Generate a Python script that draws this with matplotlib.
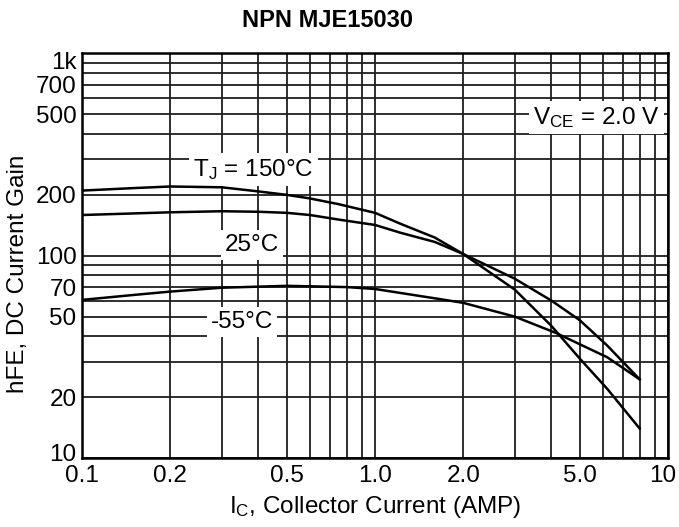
import numpy as np
import matplotlib
matplotlib.use("Agg")
import matplotlib.pyplot as plt
import matplotlib.transforms as mtransforms
from matplotlib.ticker import FixedLocator, FixedFormatter, LogLocator, NullFormatter

plt.rcParams['font.family'] = ['Liberation Sans', 'DejaVu Sans']
plt.rcParams['mathtext.default'] = 'regular'

# collector current (A) and DC current gain for each junction temperature
ic_150 = [0.1, 0.15, 0.2, 0.3, 0.4, 0.5, 0.6, 0.75, 1.0, 1.22, 1.6, 2.0, 3.0, 4.0, 5.0, 6.2, 8.0]
hfe_150 = [210, 216, 220, 218, 208, 200, 192, 180, 163, 144, 123, 102, 68, 45, 31, 22, 14]

ic_25 = [0.1, 0.2, 0.3, 0.4, 0.5, 0.6, 0.75, 1.0, 1.22, 1.6, 2.0, 3.0, 4.0, 5.0, 6.2, 8.0]
hfe_25 = [159, 164, 166, 165, 163, 159, 151, 142, 130, 117, 102, 77, 60, 48, 36, 24.5]

ic_m55 = [0.1, 0.15, 0.2, 0.3, 0.5, 0.8, 1.0, 1.67, 2.0, 3.0, 4.15, 5.0, 6.2, 8.0]
hfe_m55 = [60.5, 64, 66.5, 69.5, 71, 70, 68.5, 61, 58.5, 50, 41.5, 36.5, 31.5, 24.5]

xticks = [0.1, 0.2, 0.5, 1.0, 2.0, 5.0, 10]
xlabels = ["0.1", "0.2", "0.5", "1.0", "2.0", "5.0", "10"]
yticks = [10, 20, 50, 70, 100, 200, 500, 700, 1000]
ylabels = ["10", "20", "50", "70", "100", "200", "500", "700", "1k"]

fs = 17.5

fig = plt.figure(figsize=(6.79, 5.27), dpi=100)
ax = fig.add_axes([0.1208, 0.1309, 0.863, 0.7676])
ax.set_xscale("log")
ax.set_yscale("log")
ax.set_xlim(0.1, 10)
ax.set_ylim(10, 1000)

ax.xaxis.set_major_locator(FixedLocator(xticks))
ax.xaxis.set_major_formatter(FixedFormatter(xlabels))
ax.yaxis.set_major_locator(FixedLocator(yticks))
ax.yaxis.set_major_formatter(FixedFormatter(ylabels))
ax.xaxis.set_minor_locator(LogLocator(base=10, subs=np.arange(2, 10)))
ax.yaxis.set_minor_locator(LogLocator(base=10, subs=np.arange(2, 10)))
ax.xaxis.set_minor_formatter(NullFormatter())
ax.yaxis.set_minor_formatter(NullFormatter())

ax.grid(True, which="both", color="0.12", lw=1.3, zorder=1)
ax.set_axisbelow(True)
ax.tick_params(which="both", length=0, labelsize=fs)
ax.tick_params(axis="x", pad=5)
ax.tick_params(axis="y", pad=4)
for s in ax.spines.values():
    s.set_linewidth(1.8)

# nudge the corner labels inward so they don't collide / clip
def nudge(label, dx, dy):
    label.set_transform(label.get_transform() +
                        mtransforms.ScaledTranslation(dx / 72, dy / 72, fig.dpi_scale_trans))

xl = ax.get_xticklabels()
yl = ax.get_yticklabels()
nudge(xl[-1], -3.5, 0)
nudge(yl[0], 0, 4)
nudge(yl[-1], 0, -5)

ax.plot(ic_150, hfe_150, color="black", lw=1.8, zorder=4)
ax.plot(ic_25, hfe_25, color="black", lw=1.8, zorder=4)
ax.plot(ic_m55, hfe_m55, color="black", lw=1.8, zorder=4)

box = dict(facecolor="white", edgecolor="none", pad=3)
ax.text(0.384, 267, "T$_{J}$ = 150°C", fontsize=fs, ha="center", va="center", bbox=box, zorder=3)
ax.text(0.381, 113, "25°C", fontsize=fs, ha="center", va="center", bbox=box, zorder=3)
ax.text(0.352, 47, "-55°C", fontsize=fs, ha="center", va="center", bbox=box, zorder=3)
ax.text(3.46, 482, "V$_{CE}$ = 2.0 V", fontsize=fs, ha="left", va="center", bbox=box, zorder=3)

ax.set_xlabel("I$_{C}$, Collector Current (AMP)", fontsize=fs, labelpad=5)
ax.set_ylabel("hFE, DC Current Gain", fontsize=fs)
ax.yaxis.set_label_coords(-0.09, 0.455)

fig.text(0.483, 0.962, "NPN MJE15030", fontsize=17, fontweight="bold", ha="center", va="center")

fig.savefig("out.png", dpi=100)
